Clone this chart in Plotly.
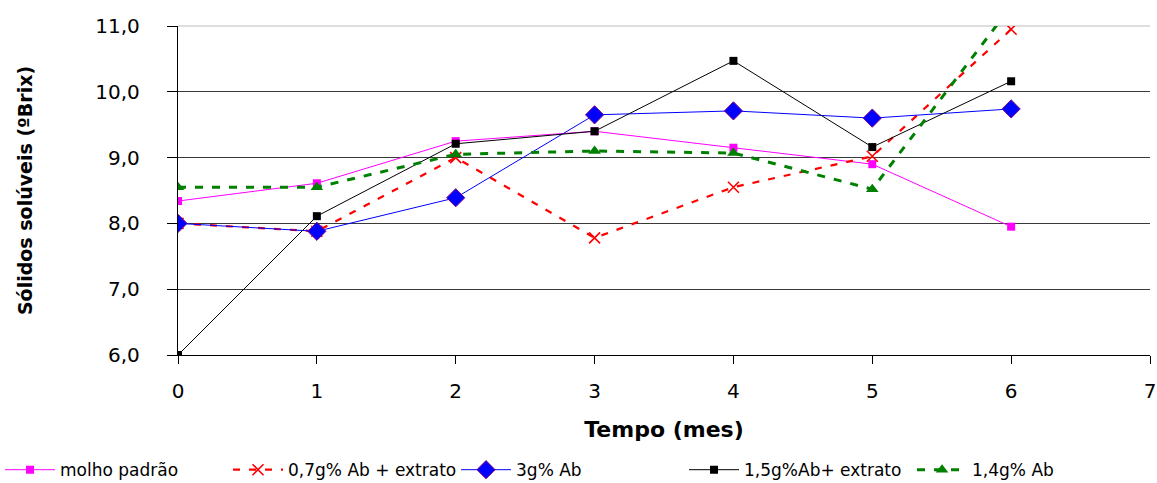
import plotly.graph_objects as go

# Tempo de armazenamento (meses)
meses = [0, 1, 2, 3, 4, 5, 6]

# Sólidos solúveis (ºBrix) por formulação
molho_padrao = [8.34, 8.61, 9.25, 9.40, 9.15, 8.90, 7.95]
ab07_extrato = [8.00, 7.88, 9.00, 7.78, 8.55, 9.02, 10.95]
ab3 = [8.00, 7.88, 8.39, 9.65, 9.71, 9.60, 9.74]
ab15_extrato = [6.00, 8.11, 9.21, 9.40, 10.47, 9.16, 10.16]
ab14 = [8.55, 8.55, 9.05, 9.10, 9.07, 8.52, 11.30]

nomes = ["molho padrão", "0,7g% Ab + extrato", "3g% Ab",
         "1,5g%Ab+ extrato", "1,4g% Ab"]

FONT = "DejaVu Sans"

fig = go.Figure()

fig.add_trace(go.Scatter(
    x=meses, y=molho_padrao, name=nomes[0], mode="lines+markers",
    line=dict(color="#FF00FF", width=1),
    marker=dict(symbol="square", size=8, color="#FF00FF"),
))
fig.add_trace(go.Scatter(
    x=meses, y=ab07_extrato, name=nomes[1], mode="lines+markers",
    line=dict(color="#FF0000", width=2.2, dash="7px,9px"),
    marker=dict(symbol="x-thin", size=11,
                line=dict(color="#FF0000", width=1.6)),
))
fig.add_trace(go.Scatter(
    x=meses, y=ab3, name=nomes[2], mode="lines+markers",
    line=dict(color="#0000FF", width=1),
    marker=dict(symbol="diamond", size=14, color="#0000FF",
                line=dict(color="#800080", width=1)),
))
fig.add_trace(go.Scatter(
    x=meses, y=ab15_extrato, name=nomes[3], mode="lines+markers",
    line=dict(color="#000000", width=1),
    marker=dict(symbol="square", size=8, color="#000000"),
))
fig.add_trace(go.Scatter(
    x=meses, y=ab14, name=nomes[4], mode="lines+markers",
    line=dict(color="#008000", width=3, dash="8px,9px"),
    marker=dict(symbol="triangle-up", size=11, color="#008000"),
))

fig.update_layout(
    width=1157, height=483,
    margin=dict(l=178, r=7, t=26, b=128, autoexpand=False),
    paper_bgcolor="white", plot_bgcolor="white",
    separators=",.",
    font=dict(family=FONT, color="black"),
    showlegend=True,
    legend=dict(
        orientation="h", x=-0.1831, xanchor="left", y=-0.35, yanchor="middle",
        font=dict(family=FONT, size=17, color="black"),
        itemwidth=50,
        entrywidth=163, entrywidthmode="pixels",
        bgcolor="rgba(0,0,0,0)", traceorder="normal",
    ),
    # light top border line at 11,0
    shapes=[dict(
        type="line", xref="x domain", yref="y domain",
        x0=0, x1=1, y0=1, y1=1, layer="below",
        line=dict(color="#BDBDBD", width=1.2),
    )],
)

fig.update_xaxes(
    range=[0, 7], dtick=1, tick0=0,
    showgrid=False, zeroline=False,
    showline=True, linecolor="black", linewidth=1.3,
    ticks="outside", ticklen=8, tickcolor="black", tickwidth=1,
    tickfont=dict(family=FONT, size=20, color="black"),
    ticklabelstandoff=10,
    title=dict(text="<b>Tempo (mes)</b>", standoff=19,
               font=dict(family=FONT, size=22, color="black")),
)

fig.update_yaxes(
    range=[6, 11], dtick=1, tick0=6, tickformat=".1f",
    showgrid=True, gridcolor="#3A3A3A", gridwidth=1,
    zeroline=False,
    showline=True, linecolor="black", linewidth=1.3,
    ticks="outside", ticklen=10, tickcolor="black", tickwidth=1,
    tickfont=dict(family=FONT, size=20, color="black"),
    ticklabelstandoff=23,
    title=dict(text="<b>Sólidos solúveis (ºBrix)</b>", standoff=57,
               font=dict(family=FONT, size=19, color="black")),
)

fig.write_html("out.html")
